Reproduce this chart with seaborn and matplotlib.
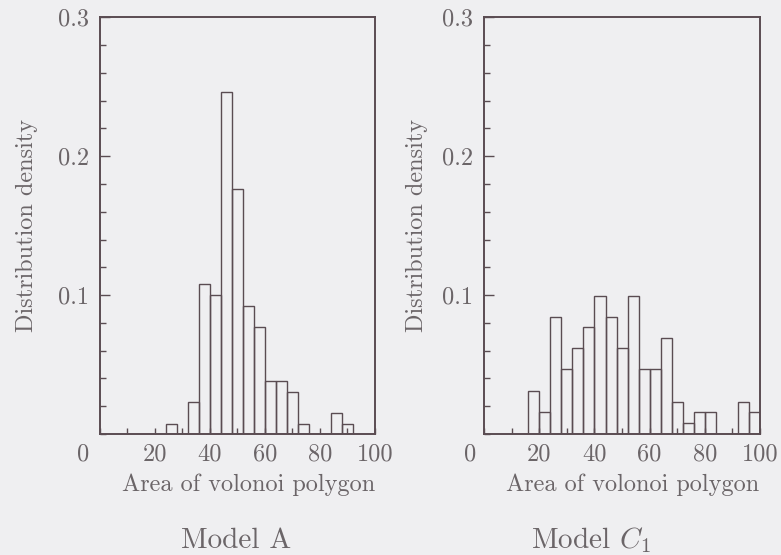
import numpy as np
import pandas as pd
import matplotlib
matplotlib.use('Agg')
import matplotlib.pyplot as plt
import matplotlib.transforms as mtrans
from matplotlib.ticker import MultipleLocator
import seaborn as sns

# bin width 4
bin_width = 4
area_a = [26, 30, 34, 38, 42, 46, 50, 54, 58, 62, 66, 70, 74, 78, 82, 86, 90]
dens_a = [0.0072, 0.0, 0.0228, 0.1077, 0.100, 0.2465, 0.1767, 0.0923, 0.0767,
          0.0384, 0.0384, 0.0305, 0.0072, 0.0, 0.0, 0.0149, 0.0072]

area_c = [18, 22, 26, 30, 34, 38, 42, 46, 50, 54, 58, 62, 66, 70, 74, 78, 82,
          86, 90, 94, 98]
dens_c = [0.0312, 0.0156, 0.0844, 0.0465, 0.0616, 0.0767, 0.0995, 0.0844,
          0.0616, 0.0995, 0.0465, 0.0465, 0.0693, 0.0233, 0.0082, 0.0156,
          0.0156, 0.0, 0.0, 0.0233, 0.0156]

titles = ['Model A', 'Model $C_1$']
xlabel = 'Area of volonoi polygon'
ylabel = 'Distribution density'

line_col = '#5a4c52'
text_col = '#6b6568'
bg = '#efeff1'

sns.set_theme(style='ticks')
plt.rcParams['font.family'] = ['cmr10', 'DejaVu Serif']
plt.rcParams['mathtext.fontset'] = 'cm'
plt.rcParams['axes.formatter.use_mathtext'] = True

fig = plt.figure(figsize=(7.81, 5.55), dpi=100, facecolor=bg)
ax1 = fig.add_axes([0.128, 0.218, 0.352, 0.751])
ax2 = fig.add_axes([0.620, 0.218, 0.353, 0.751])

panels = [(ax1, area_a, dens_a, -0.225, -17), (ax2, area_c, dens_c, -0.205, -14)]
for ax, area, dens, ylab_x, zero_shift in panels:
    df = pd.DataFrame({'area': area, 'dens': dens})
    lo = min(area) - bin_width / 2
    hi = max(area) + bin_width / 2
    sns.histplot(data=df, x='area', weights='dens', binwidth=bin_width, binrange=(lo, hi),
                 stat='count', fill=False, element='bars', color=line_col,
                 linewidth=1.0, ax=ax)
    ax.set_facecolor(bg)
    ax.set_xlim(0, 100)
    ax.set_ylim(0, 0.3)
    for sp in ax.spines.values():
        sp.set_visible(True)
        sp.set_color(line_col)
        sp.set_linewidth(1.4)
    ax.set_xticks([0, 20, 40, 60, 80, 100])
    ax.set_xticklabels(['0', '20', '40', '60', '80', '100'])
    ax.xaxis.set_minor_locator(MultipleLocator(10))
    ax.set_yticks([0.1, 0.2, 0.3])
    ax.set_yticklabels(['0.1', '0.2', '0.3'])
    ax.yaxis.set_minor_locator(MultipleLocator(0.02))
    ax.tick_params(axis='both', which='both', direction='in', colors=line_col,
                   labelcolor=text_col, labelsize=17.5)
    ax.tick_params(axis='y', which='major', length=7, width=1.0, pad=8)
    ax.tick_params(axis='y', which='minor', length=4, width=1.0)
    ax.tick_params(axis='x', which='both', length=4, width=1.0, pad=7)
    # the "0" at the origin sits left of the corner
    lab0 = ax.get_xticklabels()[0]
    lab0.set_transform(lab0.get_transform() +
                       mtrans.ScaledTranslation(zero_shift / 100, 0, fig.dpi_scale_trans))
    ax.set_xlabel(xlabel, fontsize=17.5, color=text_col)
    ax.xaxis.set_label_coords(0.54, -0.095)
    ax.set_ylabel(ylabel, fontsize=17.5, color=text_col)
    ax.yaxis.set_label_coords(ylab_x, 0.5)

fig.text(0.302, 0.012, titles[0], ha='center', fontsize=21, color=text_col)
fig.text(0.757, 0.012, titles[1], ha='center', fontsize=21, color=text_col)

fig.savefig('out.png', dpi=100, facecolor=bg)
